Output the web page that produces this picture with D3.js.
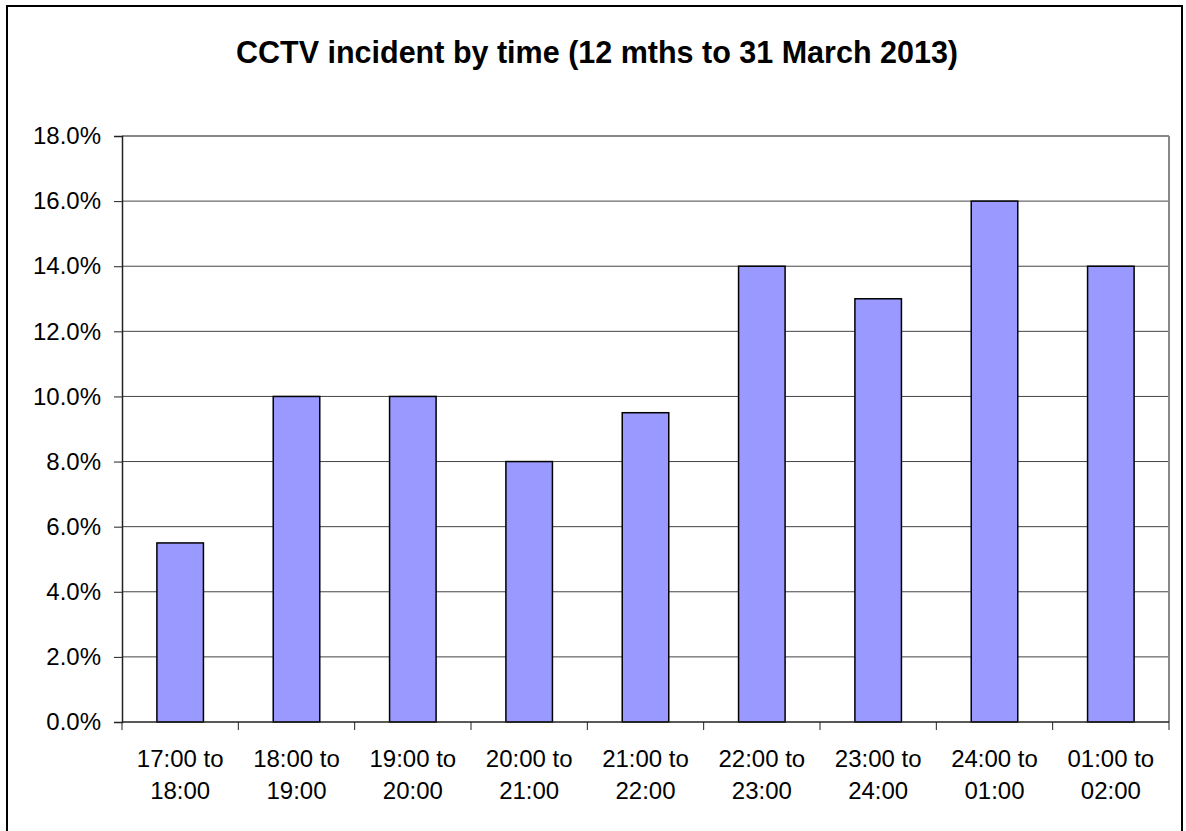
<!DOCTYPE html>
<html>
<head>
<meta charset="utf-8">
<script src="https://cdn.jsdelivr.net/npm/d3@7"></script>
<style>
  body { margin: 0; background: #fff; }
  svg { display: block; font-family: Arial, "Liberation Sans", sans-serif; }
</style>
</head>
<body>
<div id="chart"></div>
<script>
const categories = ["17:00 to 18:00", "18:00 to 19:00", "19:00 to 20:00", "20:00 to 21:00",
    "21:00 to 22:00", "22:00 to 23:00", "23:00 to 24:00", "24:00 to 01:00", "01:00 to 02:00"];
const values = [5.5, 10, 10, 8, 9.5, 14, 13, 16, 14];
const yTicks = [0, 2, 4, 6, 8, 10, 12, 14, 16, 18];
const title = "CCTV incident by time (12 mths to 31 March 2013)";

const width = 1186, height = 831,
    margin = {top: 136, right: 17, bottom: 109, left: 122};

const svg = d3.select("#chart").append("svg")
    .attr("width", width)
    .attr("height", height);

// outer frame
svg.append("rect")
    .attr("x", 7).attr("y", 6)
    .attr("width", 1175).attr("height", 840)
    .attr("fill", "#fff")
    .attr("stroke", "#000")
    .attr("stroke-width", 2);

svg.append("text")
    .attr("x", 597).attr("y", 63)
    .attr("text-anchor", "middle")
    .style("font-size", "30.5px")
    .style("font-weight", "bold")
    .text(title);

const x = d3.scaleBand()
    .domain(categories)
    .range([margin.left, width - margin.right])
    .paddingInner(0.6)
    .paddingOuter(0.3);

const y = d3.scaleLinear()
    .domain([0, 18])
    .range([height - margin.bottom, margin.top]);

const g = svg.append("g");

// gridlines
g.selectAll(".grid")
    .data(yTicks.filter(d => d > 0))
    .enter().append("line")
    .attr("x1", margin.left).attr("x2", width - margin.right)
    .attr("y1", d => y(d)).attr("y2", d => y(d))
    .attr("stroke", d => d === 18 ? "#888" : "#444")
    .attr("stroke-width", d => d === 18 ? 2 : 1);

// right frame of plot area
g.append("line")
    .attr("x1", width - margin.right).attr("x2", width - margin.right)
    .attr("y1", margin.top).attr("y2", height - margin.bottom)
    .attr("stroke", "#888").attr("stroke-width", 2);

// bars
g.selectAll(".bar")
    .data(values)
    .enter().append("rect")
    .attr("class", "bar")
    .attr("x", (d, i) => x(categories[i]))
    .attr("y", d => y(d))
    .attr("width", x.bandwidth())
    .attr("height", d => y(0) - y(d))
    .attr("fill", "#9999ff")
    .attr("stroke", "#000")
    .attr("stroke-width", 1.5);

// y axis
const yAxis = svg.append("g")
    .attr("transform", `translate(${margin.left},0)`)
    .call(d3.axisLeft(y).tickValues(yTicks).tickSize(8).tickPadding(13)
        .tickFormat(d => d.toFixed(1) + "%"));
yAxis.select(".domain").attr("stroke", "#222").attr("stroke-width", 1.5);
yAxis.selectAll(".tick line").attr("stroke", "#222");
yAxis.selectAll(".tick text")
    .style("font-size", "24px")
    .style("font-family", "Arial, 'Liberation Sans', sans-serif")
    .attr("fill", "#000");

// x axis: ticks at category boundaries
const bounds = d3.range(categories.length + 1)
    .map(i => margin.left + i * (width - margin.left - margin.right) / categories.length);
const xAxis = svg.append("g");
xAxis.append("line")
    .attr("x1", margin.left).attr("x2", width - margin.right)
    .attr("y1", y(0)).attr("y2", y(0))
    .attr("stroke", "#222").attr("stroke-width", 1.5);
xAxis.selectAll(".xt")
    .data(bounds)
    .enter().append("line")
    .attr("x1", d => d).attr("x2", d => d)
    .attr("y1", y(0)).attr("y2", y(0) + 8)
    .attr("stroke", "#222");

const labels = xAxis.selectAll(".xl")
    .data(categories)
    .enter().append("text")
    .attr("text-anchor", "middle")
    .style("font-size", "24px")
    .attr("transform", d => `translate(${x(d) + x.bandwidth() / 2},${y(0)})`);
labels.append("tspan").attr("x", 0).attr("y", 45).text(d => d.split(" to ")[0] + " to");
labels.append("tspan").attr("x", 0).attr("y", 77).text(d => d.split(" to ")[1]);
</script>
</body>
</html>
